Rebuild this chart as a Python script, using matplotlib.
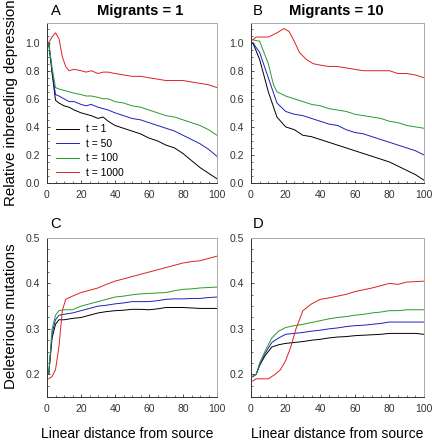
import matplotlib.pyplot as plt
from matplotlib.ticker import MultipleLocator

plt.rcParams['font.family'] = ['Liberation Sans', 'DejaVu Sans']

labels = ['t = 1', 't = 50', 't = 100', 't = 1000']
colors = ['#000000', '#1f1fbf', '#2a9a2a', '#e02020']

# Panel A: relative inbreeding depression, migrants = 1
a_x = [[1, 3, 5, 7, 10, 13, 16, 20, 23, 26, 30, 33, 36, 40, 45, 50, 55, 60, 65, 70, 75, 80, 85, 90, 95, 100],
       [1, 3, 5, 7, 10, 13, 16, 20, 23, 26, 30, 33, 36, 40, 45, 50, 55, 60, 65, 70, 75, 80, 85, 90, 95, 100],
       [1, 3, 5, 7, 10, 13, 16, 20, 23, 26, 30, 33, 36, 40, 45, 50, 55, 60, 65, 70, 75, 80, 85, 90, 95, 100],
       [1, 3, 5, 7, 9, 11, 13, 16, 20, 23, 26, 30, 33, 36, 40, 45, 50, 55, 60, 65, 70, 75, 80, 85, 90, 95, 100]]
a_y = [[1.0, 0.78, 0.59, 0.57, 0.55, 0.54, 0.52, 0.50, 0.49, 0.48, 0.46, 0.47, 0.44, 0.41, 0.39, 0.37, 0.35, 0.32, 0.30, 0.27, 0.25, 0.21, 0.16, 0.11, 0.07, 0.03],
       [1.0, 0.80, 0.63, 0.62, 0.60, 0.58, 0.58, 0.56, 0.55, 0.56, 0.54, 0.53, 0.52, 0.50, 0.48, 0.46, 0.45, 0.43, 0.41, 0.39, 0.37, 0.34, 0.31, 0.28, 0.24, 0.19],
       [1.0, 0.82, 0.68, 0.67, 0.66, 0.65, 0.64, 0.63, 0.62, 0.62, 0.61, 0.60, 0.60, 0.58, 0.57, 0.55, 0.54, 0.52, 0.50, 0.48, 0.47, 0.45, 0.43, 0.41, 0.38, 0.34],
       [1.0, 1.04, 1.07, 1.03, 0.90, 0.83, 0.80, 0.81, 0.80, 0.79, 0.80, 0.78, 0.79, 0.79, 0.78, 0.77, 0.76, 0.76, 0.75, 0.74, 0.73, 0.73, 0.73, 0.72, 0.71, 0.70, 0.68]]

# Panel B: relative inbreeding depression, migrants = 10
b_x = [[1, 5, 10, 15, 20, 25, 30, 35, 40, 45, 50, 55, 60, 65, 70, 75, 80, 85, 90, 95, 100],
       [1, 5, 10, 15, 20, 25, 30, 35, 40, 45, 50, 55, 60, 65, 70, 75, 80, 85, 90, 95, 100],
       [1, 5, 10, 13, 15, 20, 25, 30, 35, 40, 45, 50, 55, 60, 65, 70, 75, 80, 85, 90, 95, 100],
       [1, 3, 10, 15, 19, 22, 25, 28, 32, 36, 40, 45, 50, 55, 60, 65, 70, 75, 80, 85, 90, 95, 100]]
b_y = [[1.0, 0.88, 0.65, 0.47, 0.40, 0.38, 0.34, 0.33, 0.31, 0.29, 0.27, 0.25, 0.23, 0.21, 0.19, 0.17, 0.15, 0.12, 0.09, 0.06, 0.02],
       [1.0, 0.93, 0.75, 0.57, 0.51, 0.49, 0.48, 0.46, 0.44, 0.42, 0.41, 0.38, 0.36, 0.35, 0.33, 0.31, 0.29, 0.27, 0.25, 0.23, 0.20],
       [1.02, 1.01, 0.85, 0.70, 0.65, 0.62, 0.60, 0.58, 0.56, 0.55, 0.53, 0.52, 0.51, 0.49, 0.48, 0.47, 0.46, 0.44, 0.43, 0.41, 0.40, 0.39],
       [1.02, 1.04, 1.04, 1.07, 1.10, 1.08, 1.01, 0.93, 0.88, 0.85, 0.84, 0.83, 0.83, 0.82, 0.81, 0.80, 0.80, 0.80, 0.80, 0.78, 0.78, 0.77, 0.75]]

# Panel C: deleterious mutations, migrants = 1
c_x = [[1, 3, 5, 7, 10, 15, 20, 25, 30, 35, 40, 45, 50, 55, 60, 65, 70, 75, 80, 85, 90, 95, 100],
       [1, 3, 5, 7, 10, 15, 20, 25, 30, 35, 40, 45, 50, 55, 60, 65, 70, 75, 80, 85, 90, 95, 100],
       [1, 3, 5, 7, 10, 15, 20, 25, 30, 35, 40, 45, 50, 55, 60, 65, 70, 75, 80, 85, 90, 95, 100],
       [1, 3, 5, 7, 9, 11, 15, 20, 25, 30, 35, 40, 45, 50, 55, 60, 65, 70, 75, 80, 85, 90, 95, 100]]
c_y = [[0.20, 0.28, 0.31, 0.32, 0.32, 0.323, 0.325, 0.33, 0.335, 0.338, 0.34, 0.341, 0.343, 0.343, 0.342, 0.344, 0.347, 0.347, 0.347, 0.346, 0.345, 0.345, 0.345],
       [0.20, 0.29, 0.32, 0.33, 0.332, 0.335, 0.34, 0.345, 0.35, 0.352, 0.355, 0.357, 0.36, 0.36, 0.36, 0.362, 0.365, 0.366, 0.366, 0.367, 0.367, 0.369, 0.37],
       [0.20, 0.30, 0.33, 0.34, 0.342, 0.342, 0.35, 0.355, 0.36, 0.365, 0.37, 0.372, 0.375, 0.377, 0.378, 0.379, 0.38, 0.384, 0.387, 0.388, 0.39, 0.391, 0.392],
       [0.19, 0.195, 0.21, 0.26, 0.34, 0.365, 0.372, 0.38, 0.385, 0.39, 0.398, 0.405, 0.41, 0.415, 0.42, 0.425, 0.43, 0.435, 0.44, 0.445, 0.448, 0.45, 0.455, 0.46]]

# Panel D: deleterious mutations, migrants = 10
d_x = [[1, 3, 5, 8, 12, 16, 20, 25, 30, 35, 40, 45, 50, 55, 60, 65, 70, 75, 80, 85, 90, 95, 100],
       [1, 3, 5, 8, 12, 16, 20, 25, 30, 35, 40, 45, 50, 55, 60, 65, 70, 75, 80, 85, 90, 95, 100],
       [1, 3, 5, 8, 12, 16, 20, 25, 30, 35, 40, 45, 50, 55, 60, 65, 70, 75, 80, 85, 90, 95, 100],
       [1, 3, 6, 10, 14, 17, 20, 23, 26, 30, 35, 40, 45, 50, 55, 60, 65, 70, 75, 80, 85, 90, 95, 100]]
d_y = [[0.195, 0.20, 0.22, 0.24, 0.26, 0.265, 0.268, 0.27, 0.272, 0.275, 0.277, 0.28, 0.282, 0.283, 0.285, 0.286, 0.287, 0.288, 0.29, 0.29, 0.29, 0.29, 0.288],
       [0.195, 0.20, 0.22, 0.245, 0.27, 0.28, 0.288, 0.29, 0.292, 0.295, 0.297, 0.30, 0.302, 0.305, 0.307, 0.308, 0.31, 0.312, 0.315, 0.315, 0.315, 0.315, 0.315],
       [0.195, 0.20, 0.225, 0.25, 0.28, 0.295, 0.303, 0.307, 0.31, 0.314, 0.318, 0.322, 0.325, 0.327, 0.33, 0.332, 0.335, 0.337, 0.34, 0.34, 0.342, 0.342, 0.342],
       [0.185, 0.19, 0.19, 0.19, 0.20, 0.21, 0.23, 0.26, 0.30, 0.34, 0.355, 0.365, 0.368, 0.372, 0.376, 0.382, 0.386, 0.39, 0.395, 0.40, 0.398, 0.403, 0.404, 0.405]]

fig = plt.figure(figsize=(4.32, 4.4), dpi=100)

boxes = {'A': [47 / 432, 1 - 183 / 440, 170 / 432, 160 / 440],
         'B': [251 / 432, 1 - 183 / 440, 173 / 432, 160 / 440],
         'C': [47 / 432, 1 - 397 / 440, 170 / 432, 159 / 440],
         'D': [251 / 432, 1 - 397 / 440, 173 / 432, 159 / 440]}
data = {'A': (a_x, a_y), 'B': (b_x, b_y), 'C': (c_x, c_y), 'D': (d_x, d_y)}

axes = {}
for key in ['A', 'B', 'C', 'D']:
    ax = fig.add_axes(boxes[key])
    axes[key] = ax
    xs, ys = data[key]
    for i in range(4):
        ax.plot(xs[i], ys[i], color=colors[i], lw=0.7, label=labels[i])
    ax.set_xlim(0, 100)
    ax.xaxis.set_major_locator(MultipleLocator(20))
    ax.xaxis.set_minor_locator(MultipleLocator(5))
    if key in 'AB':
        ax.set_ylim(0, 1.14)
        ax.yaxis.set_major_locator(MultipleLocator(0.2))
        ax.yaxis.set_minor_locator(MultipleLocator(0.05))
    else:
        ax.set_ylim(0.15, 0.5)
        ax.yaxis.set_major_locator(MultipleLocator(0.1))
        ax.yaxis.set_minor_locator(MultipleLocator(0.025))
        ax.yaxis.set_major_formatter(plt.FormatStrFormatter('%.1f'))
    ax.tick_params(which='both', direction='in', labelsize=7.5, colors='#333333', pad=5)
    ax.tick_params(which='major', length=2.5, width=0.6)
    ax.tick_params(which='minor', length=1.5, width=0.5)
    for s in ['top', 'right']:
        ax.spines[s].set_color('#aaaaaa')
    for s in ['left', 'bottom']:
        ax.spines[s].set_color('#333333')
    for s in ax.spines.values():
        s.set_linewidth(0.7)

axes['A'].legend(loc='lower left', bbox_to_anchor=(0.0, -0.025), frameon=False,
                 fontsize=7.5, handlelength=2.2, labelspacing=0.42, handletextpad=0.6)

axes['A'].set_ylabel('Relative inbreeding depression', fontsize=10.8)
axes['A'].yaxis.set_label_coords(-0.17, 0.5)
axes['C'].set_ylabel('Deleterious mutations', fontsize=10.8)
axes['C'].yaxis.set_label_coords(-0.17, 0.51)
axes['C'].set_xlabel('Linear distance from source', fontsize=10)
axes['C'].xaxis.set_label_coords(0.47, -0.19)
axes['D'].set_xlabel('Linear distance from source', fontsize=10)
axes['D'].xaxis.set_label_coords(0.5, -0.19)

fig.text(51 / 432, 1 - 11 / 440, 'A', fontsize=10.6, va='center')
fig.text(140 / 432, 1 - 11 / 440, 'Migrants = 1', fontsize=10.6, fontweight='bold', va='center', ha='center')
fig.text(253 / 432, 1 - 11 / 440, 'B', fontsize=10.6, va='center')
fig.text(289 / 432, 1 - 11 / 440, 'Migrants = 10', fontsize=10.6, fontweight='bold', va='center', ha='left')
fig.text(50 / 432, 1 - 224 / 440, 'C', fontsize=10.6, va='center')
fig.text(253 / 432, 1 - 224 / 440, 'D', fontsize=10.6, va='center')

fig.savefig('out.png', dpi=100)
